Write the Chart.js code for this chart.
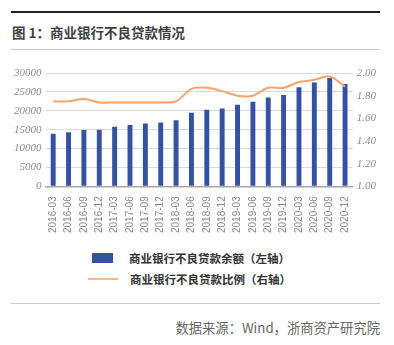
<!DOCTYPE html>
<html>
<head>
<meta charset="utf-8">
<script src="https://cdn.jsdelivr.net/npm/chart.js@4"></script>
<style>
  body { margin: 0; background: #fff; width: 394px; height: 345px; position: relative; overflow: hidden; font-family: "Noto Sans CJK SC", "Noto Sans", sans-serif; }
  .rule { position: absolute; left: 11px; width: 369px; }
  #chartBox { position: absolute; left: 0; top: 0; width: 394px; height: 250px; }
  .title { position: absolute; left: 12px; top: 23px; font-size: 13.5px; font-weight: bold; color: #3f3f3f; line-height: 18px; white-space: nowrap; }
  .legend-row { position: absolute; font-size: 11.5px; font-weight: bold; color: #333; line-height: 14px; white-space: nowrap; }
  .source { position: absolute; right: 14px; top: 319px; font-size: 13.3px; color: #666; line-height: 18px; white-space: nowrap; }
</style>
</head>
<body>
<div class="rule" style="top:11px;height:2px;background:#222;"></div>
<div class="title">图 1：商业银行不良贷款情况</div>
<div class="rule" style="top:49px;height:1px;background:#c8c8c8;"></div>

<div id="chartBox"><canvas id="nplChart" width="394" height="250"></canvas></div>

<div style="position:absolute;left:92px;top:253px;width:21px;height:10px;background:#3152a6;"></div>
<div class="legend-row" style="left:129px;top:251px;">商业银行不良贷款余额（左轴）</div>
<div style="position:absolute;left:88px;top:278px;width:30px;height:2px;background:#f9b58c;"></div>
<div class="legend-row" style="left:130px;top:272px;">商业银行不良贷款比例（右轴）</div>

<div class="rule" style="top:303px;height:1px;background:#c8c8c8;"></div>
<div class="source">数据来源：Wind，浙商资产研究院</div>

<script>
// quarters on the x axis
const quarters = [
    '2016-03', '2016-06', '2016-09', '2016-12',
    '2017-03', '2017-06', '2017-09', '2017-12',
    '2018-03', '2018-06', '2018-09', '2018-12',
    '2019-03', '2019-06', '2019-09', '2019-12',
    '2020-03', '2020-06', '2020-09', '2020-12'
];

// NPL balance (left axis)
const nplBalance = [
    13900, 14300, 14900, 15000,
    15800, 16200, 16600, 16900,
    17500, 19500, 20300, 20600,
    21600, 22400, 23500, 24200,
    26200, 27500, 28700, 27100
];

// NPL ratio (right axis)
const nplRatio = [
    1.75, 1.75, 1.77, 1.74,
    1.74, 1.74, 1.74, 1.74,
    1.75, 1.86, 1.87, 1.84,
    1.80, 1.80, 1.87, 1.87,
    1.92, 1.94, 1.97, 1.88
];

const leftTicks = [0, 5000, 10000, 15000, 20000, 25000, 30000];
const rightTicks = [1.00, 1.20, 1.40, 1.60, 1.80, 2.00];

const tickFont = { family: 'Liberation Serif', style: 'italic', size: 11 };

const ctx = document.getElementById('nplChart').getContext('2d');
new Chart(ctx, {
    type: 'bar',
    data: {
        labels: quarters,
        datasets: [{
            type: 'line',
            label: '商业银行不良贷款比例（右轴）',
            data: nplRatio,
            yAxisID: 'yRight',
            borderColor: '#f5a46e',
            borderWidth: 2,
            pointRadius: 0,
            tension: 0.3,
            order: 1
        }, {
            label: '商业银行不良贷款余额（左轴）',
            data: nplBalance,
            yAxisID: 'yLeft',
            backgroundColor: '#3152a6',
            barPercentage: 0.32,
            categoryPercentage: 1,
            order: 2
        }]
    },
    options: {
        responsive: false,
        animation: false,
        layout: {
            padding: { left: 10, right: 14, top: 73, bottom: 7 }
        },
        plugins: {
            legend: { display: false },
            tooltip: { enabled: false }
        },
        scales: {
            x: {
                grid: { display: false, drawTicks: false },
                border: { display: true, color: '#a6a6a6', width: 1.5 },
                ticks: {
                    minRotation: 90,
                    maxRotation: 90,
                    autoSkip: false,
                    padding: 10,
                    color: '#888',
                    font: { family: 'Liberation Sans', size: 10 }
                }
            },
            yLeft: {
                position: 'left',
                min: 0,
                max: 30000,
                afterBuildTicks: axis => { axis.ticks = leftTicks.map(v => ({ value: v })); },
                grid: { color: '#d9d9d9', drawTicks: false },
                border: { display: false },
                ticks: {
                    padding: 4,
                    color: '#8c8c8c',
                    font: tickFont,
                    callback: v => String(v)
                }
            },
            yRight: {
                position: 'right',
                min: 1,
                max: 2,
                afterBuildTicks: axis => { axis.ticks = rightTicks.map(v => ({ value: v })); },
                grid: { drawOnChartArea: false, drawTicks: false },
                border: { display: false },
                ticks: {
                    padding: 4,
                    color: '#8c8c8c',
                    font: tickFont,
                    callback: v => Number(v).toFixed(2)
                }
            }
        }
    }
});
</script>
</body>
</html>
